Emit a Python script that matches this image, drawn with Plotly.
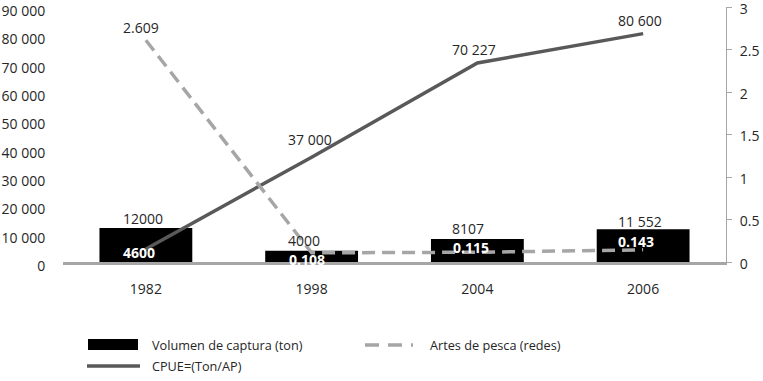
import plotly.graph_objects as go

years = ["1982", "1998", "2004", "2006"]
volumen = [12000, 4000, 8107, 11552]
cpue = [4600, 37000, 70227, 80600]
artes = [2.609, 0.108, 0.115, 0.143]

volumen_labels = ["12000", "4000", "8107", "11 552"]
cpue_labels = ["4600", "37 000", "70 227", "80 600"]
artes_labels = ["2.609", "0.108", "0.115", "0.143"]

left_tickvals = [0, 10000, 20000, 30000, 40000, 50000, 60000, 70000, 80000, 90000]
left_ticktext = ["0", "10 000", "20 000", "30 000", "40 000", "50 000",
                 "60 000", "70 000", "80 000", "90 000"]
right_tickvals = [0, 0.5, 1, 1.5, 2, 2.5, 3]
right_ticktext = ["0", "0.5", "1", "1.5", "2", "2.5", "3"]

legend_names = ["Volumen de captura (ton)", "Artes de pesca (redes)", "CPUE=(Ton/AP)"]

FONT = "Open Sans, Noto Sans, sans-serif"
TXT = "#262626"
W, H = 763, 381
ML, MR, MT, MB = 63, 37, 7, 119
PW, PH = W - ML - MR, H - MT - MB
BOTTOM = H - MB

def px(x):
    return (x - ML) / PW

def py(y):
    return (BOTTOM - y) / PH

xpos = list(range(len(years)))

fig = go.Figure()
fig.add_trace(go.Bar(x=xpos, y=volumen, width=0.56, marker=dict(color="#000000", line=dict(width=0)),
                     name=legend_names[0], showlegend=False))
fig.add_trace(go.Scatter(x=xpos, y=cpue, mode="lines", line=dict(color="#595959", width=3.5),
                         name=legend_names[2], showlegend=False))
fig.add_trace(go.Scatter(x=xpos, y=artes, mode="lines", yaxis="y2",
                         line=dict(color="#a6a6a6", width=3.5, dash="13px,7px"),
                         name=legend_names[1], showlegend=False))

annotations = []
# label offsets (pixels) relative to the data point: (dx, dy-up)
vol_off = [(-3, 10), (-8, 10), (-9, 11), (-3, 8)]
cpue_off = [(-7, -4), (-2, 18), (-3, 14), (-3, 13)]
artes_off = [(-5, 13), (-5, -7), (-6, 5), (-7, 8)]

for i, (x, v, t) in enumerate(zip(xpos, volumen, volumen_labels)):
    annotations.append(dict(x=x, y=v, xref="x", yref="y", text=t, showarrow=False,
                            xshift=vol_off[i][0], yshift=vol_off[i][1],
                            font=dict(size=14, color=TXT, family=FONT)))
for i, (x, v, t) in enumerate(zip(xpos, cpue, cpue_labels)):
    white = (i == 0)
    annotations.append(dict(x=x, y=v, xref="x", yref="y",
                            text=("<b>" + t + "</b>") if white else t, showarrow=False,
                            xshift=cpue_off[i][0], yshift=cpue_off[i][1],
                            font=dict(size=14, color="#ffffff" if white else TXT, family=FONT)))
for i, (x, v, t) in enumerate(zip(xpos, artes, artes_labels)):
    white = (i != 0)
    annotations.append(dict(x=x, y=v, xref="x", yref="y2",
                            text=("<b>" + t + "</b>") if white else t, showarrow=False,
                            xshift=artes_off[i][0], yshift=artes_off[i][1],
                            font=dict(size=14, color="#ffffff" if white else TXT, family=FONT)))

# custom legend
shapes = [
    dict(type="rect", xref="paper", yref="paper", x0=px(88), x1=px(138), y0=py(350), y1=py(339),
         fillcolor="#000000", line=dict(width=0)),
    dict(type="line", xref="paper", yref="paper", x0=px(365), x1=px(413), y0=py(345), y1=py(345),
         line=dict(color="#a6a6a6", width=3.5, dash="14px,9px")),
    dict(type="line", xref="paper", yref="paper", x0=px(87), x1=px(140), y0=py(366), y1=py(366),
         line=dict(color="#595959", width=3.5)),
]
for (xl, yl, t) in [(150, 345, legend_names[0]), (428, 345, legend_names[1]), (150, 366, legend_names[2])]:
    annotations.append(dict(x=px(xl), y=py(yl), xref="paper", yref="paper", text=t, showarrow=False,
                            xanchor="left", yanchor="middle", font=dict(size=12.7, color=TXT, family=FONT)))

fig.update_layout(
    width=W, height=H,
    margin=dict(l=ML, r=MR, t=MT, b=MB, autoexpand=False),
    paper_bgcolor="white", plot_bgcolor="white",
    font=dict(family=FONT, size=14, color=TXT),
    showlegend=False,
    xaxis=dict(range=[-0.5, 3.5], tickvals=xpos, ticktext=years, automargin=False,
               showline=True, linecolor="#a6a6a6", linewidth=3,
               ticks="outside", ticklen=12, tickcolor="rgba(0,0,0,0)", showgrid=False, zeroline=False,
               tickfont=dict(size=14, color=TXT, family=FONT)),
    yaxis=dict(range=[0, 90000], tickvals=left_tickvals, ticktext=left_ticktext, showgrid=False,
               automargin=False, zeroline=False, showline=False, ticks="outside", ticklen=14,
               tickcolor="rgba(0,0,0,0)", ticklabeloverflow="allow", ticklabelshift=4,
               tickfont=dict(size=14, color=TXT, family=FONT)),
    yaxis2=dict(range=[0, 3], overlaying="y", side="right", tickvals=right_tickvals,
                ticktext=right_ticktext, showgrid=False, zeroline=False, showline=True,
                automargin=False, linecolor="#a6a6a6", linewidth=1, ticks="outside", ticklen=5,
                tickcolor="#a6a6a6", ticklabelstandoff=5, ticklabeloverflow="allow", ticklabelshift=2,
                tickfont=dict(size=14, color=TXT, family=FONT)),
    shapes=shapes,
    annotations=annotations,
)

fig.write_html("out.html", config={"displayModeBar": False},
               post_script="document.body.style.margin='0px';")
